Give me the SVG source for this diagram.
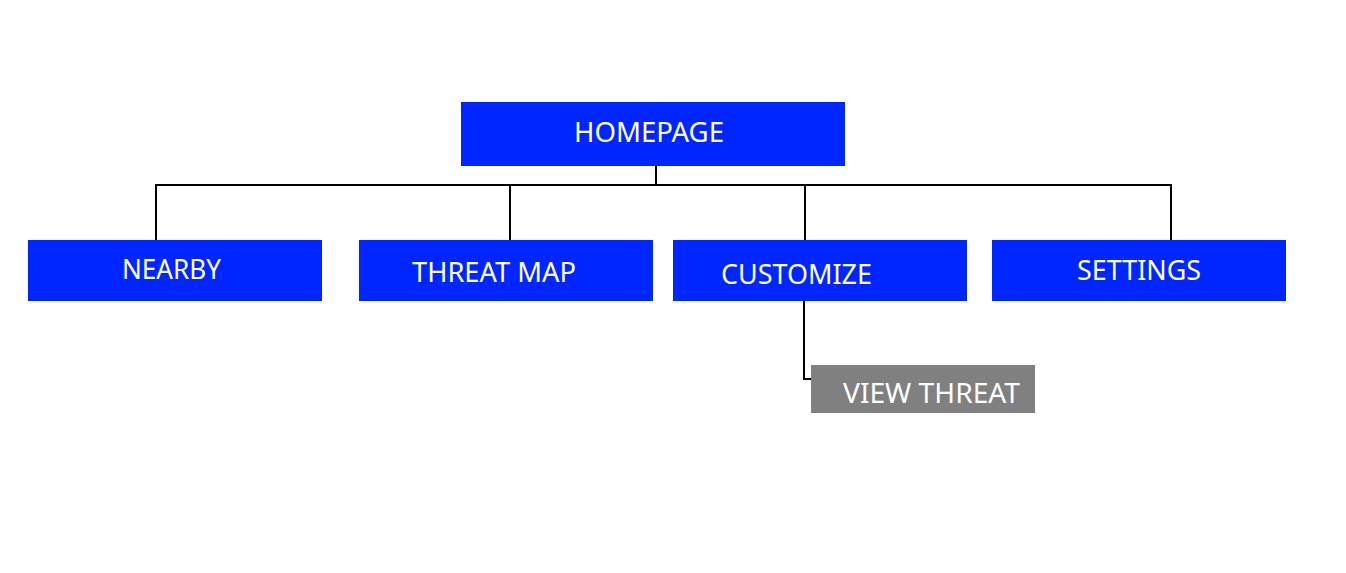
<svg xmlns="http://www.w3.org/2000/svg" width="1346" height="573" viewBox="0 0 1346 573">
<style>
.box{fill:#0026ff}
.gray{fill:#808080}
.lbl{font-family:"Noto Sans","Open Sans",sans-serif;font-size:28px;fill:#ffffff}
.conn{fill:none;stroke:#000000;stroke-width:2}
</style>
<rect width="1346" height="573" fill="#ffffff"/>
<g id="connectors">
<path class="conn" d="M656,166 V185"/>
<path class="conn" d="M156,240 V185 H1171 V240"/>
<path class="conn" d="M510,185 V240"/>
<path class="conn" d="M805,185 V240"/>
<path class="conn" d="M804,301 V379 H811"/>
</g>
<g id="homepage">
<rect class="box" x="461" y="102" width="384" height="64"/>
<text class="lbl" x="574" y="142" textLength="150" lengthAdjust="spacingAndGlyphs">HOMEPAGE</text>
</g>
<g id="nearby">
<rect class="box" x="28" y="240" width="294" height="61"/>
<text class="lbl" x="122" y="279" textLength="99" lengthAdjust="spacingAndGlyphs">NEARBY</text>
</g>
<g id="threat-map">
<rect class="box" x="359" y="240" width="294" height="61"/>
<text class="lbl" x="412" y="282" textLength="164" lengthAdjust="spacingAndGlyphs">THREAT MAP</text>
</g>
<g id="customize">
<rect class="box" x="673" y="240" width="294" height="61"/>
<text class="lbl" x="721" y="284" textLength="151" lengthAdjust="spacingAndGlyphs">CUSTOMIZE</text>
</g>
<g id="settings">
<rect class="box" x="992" y="240" width="294" height="61"/>
<text class="lbl" x="1077" y="280" textLength="124" lengthAdjust="spacingAndGlyphs">SETTINGS</text>
</g>
<g id="view-threat">
<rect class="gray" x="811" y="365" width="224" height="48"/>
<text class="lbl" x="843" y="403" textLength="177" lengthAdjust="spacingAndGlyphs">VIEW THREAT</text>
</g>
</svg>
